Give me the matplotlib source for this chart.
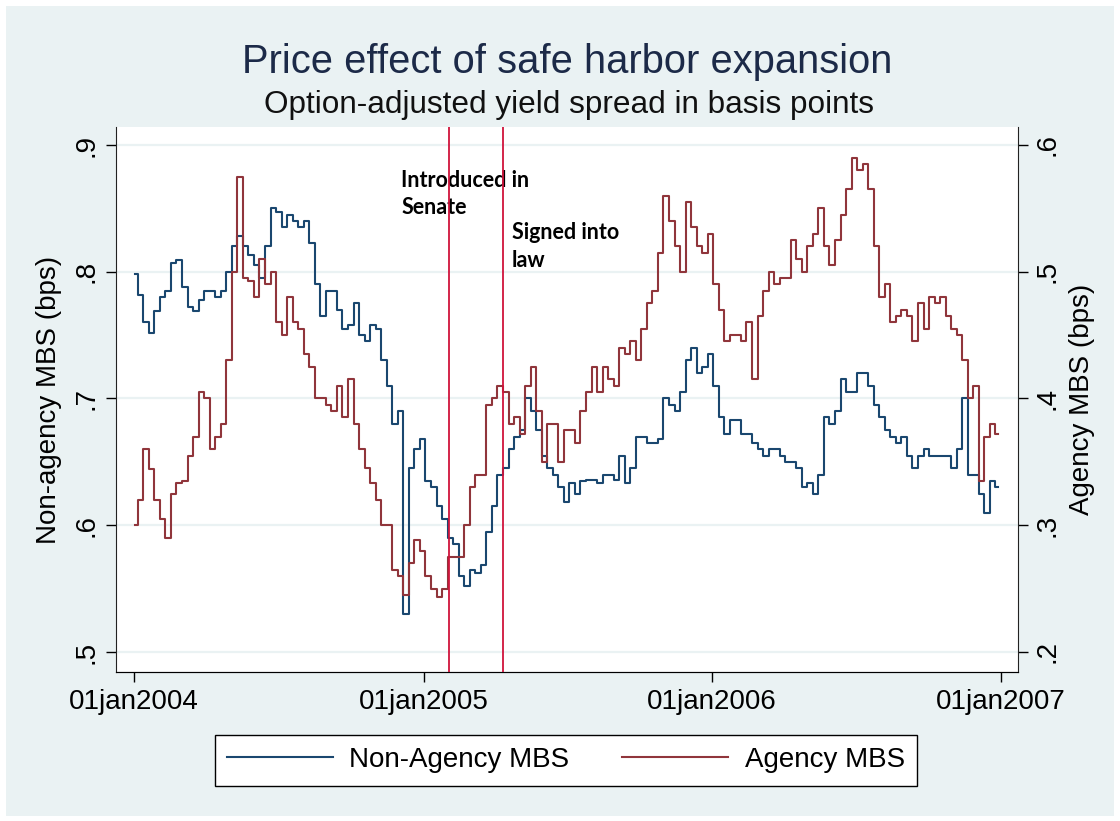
import matplotlib
matplotlib.use('Agg')
import matplotlib.pyplot as plt
from matplotlib.patches import Rectangle
import pandas as pd

# weekly readings, first friday of 2004 to last friday of 2006
week_start = '2004-01-02'
non_agency = [0.798, 0.782, 0.760, 0.752, 0.769, 0.780, 0.785, 0.807, 0.809, 0.788,
              0.772, 0.769, 0.778, 0.785, 0.785, 0.780, 0.785, 0.800, 0.820, 0.828,
              0.820, 0.813, 0.805, 0.795, 0.820, 0.850, 0.847, 0.835, 0.845, 0.840,
              0.835, 0.840, 0.823, 0.790, 0.765, 0.785, 0.785, 0.770, 0.755, 0.758,
              0.775, 0.750, 0.745, 0.758, 0.755, 0.730, 0.710, 0.680, 0.690, 0.530,
              0.645, 0.660, 0.668, 0.635, 0.630, 0.615, 0.605, 0.590, 0.585, 0.560,
              0.552, 0.565, 0.562, 0.569, 0.595, 0.615, 0.640, 0.645, 0.660, 0.670,
              0.675, 0.700, 0.690, 0.675, 0.655, 0.645, 0.640, 0.630, 0.618, 0.633,
              0.625, 0.635, 0.636, 0.636, 0.633, 0.640, 0.640, 0.636, 0.655, 0.633,
              0.645, 0.670, 0.670, 0.665, 0.665, 0.668, 0.700, 0.695, 0.690, 0.705,
              0.730, 0.740, 0.720, 0.725, 0.735, 0.710, 0.685, 0.672, 0.683, 0.683,
              0.672, 0.672, 0.665, 0.660, 0.655, 0.660, 0.660, 0.655, 0.650, 0.650,
              0.645, 0.630, 0.633, 0.625, 0.640, 0.685, 0.680, 0.690, 0.715, 0.705,
              0.705, 0.720, 0.720, 0.710, 0.695, 0.685, 0.675, 0.670, 0.665, 0.670,
              0.655, 0.645, 0.655, 0.660, 0.655, 0.655, 0.655, 0.655, 0.645, 0.660,
              0.700, 0.640, 0.640, 0.625, 0.610, 0.635, 0.630]
agency = [0.300, 0.320, 0.360, 0.344, 0.320, 0.305, 0.290, 0.325, 0.333, 0.335,
          0.355, 0.370, 0.405, 0.400, 0.360, 0.370, 0.380, 0.430, 0.500, 0.575,
          0.495, 0.493, 0.480, 0.510, 0.490, 0.500, 0.460, 0.450, 0.480, 0.460,
          0.455, 0.435, 0.425, 0.400, 0.400, 0.395, 0.390, 0.410, 0.385, 0.415,
          0.380, 0.360, 0.345, 0.333, 0.320, 0.300, 0.300, 0.265, 0.260, 0.245,
          0.270, 0.288, 0.280, 0.260, 0.250, 0.243, 0.250, 0.275, 0.275, 0.275,
          0.300, 0.330, 0.340, 0.340, 0.395, 0.400, 0.410, 0.405, 0.380, 0.385,
          0.372, 0.410, 0.425, 0.390, 0.350, 0.380, 0.380, 0.350, 0.375, 0.375,
          0.365, 0.390, 0.405, 0.425, 0.405, 0.425, 0.415, 0.410, 0.440, 0.435,
          0.445, 0.430, 0.455, 0.475, 0.485, 0.515, 0.560, 0.540, 0.520, 0.500,
          0.555, 0.535, 0.520, 0.515, 0.530, 0.490, 0.470, 0.445, 0.450, 0.450,
          0.445, 0.460, 0.415, 0.465, 0.485, 0.500, 0.490, 0.495, 0.495, 0.525,
          0.510, 0.500, 0.520, 0.530, 0.550, 0.520, 0.505, 0.525, 0.545, 0.565,
          0.590, 0.580, 0.585, 0.565, 0.520, 0.480, 0.490, 0.460, 0.465, 0.470,
          0.465, 0.445, 0.475, 0.455, 0.480, 0.475, 0.480, 0.465, 0.455, 0.450,
          0.430, 0.400, 0.410, 0.335, 0.370, 0.380, 0.372]
events = ['2005-02-02', '2005-04-12']
event_labels = ['Introduced in\nSenate', 'Signed into\nlaw']
year_ticks = ['2004-01-01', '2005-01-01', '2006-01-01', '2007-01-01']
left_ticks = [0.5, 0.6, 0.7, 0.8, 0.9]
right_ticks = [0.2, 0.3, 0.4, 0.5, 0.6]

dates = pd.date_range(week_start, periods=len(non_agency), freq='7D')

bg = '#EAF2F3'
blue = '#1A476F'
red = '#90353B'

plt.rcParams['font.family'] = ['Liberation Sans', 'DejaVu Sans']

fig = plt.figure(figsize=(11.2, 8.21), dpi=100, facecolor='white')
fig.patches.append(Rectangle((6 / 1120, 5 / 821), 1108 / 1120, 810 / 821, transform=fig.transFigure,
                             facecolor=bg, edgecolor='none', zorder=-10))

ax = fig.add_axes([116 / 1120, 1 - 672 / 821, 902 / 1120, 545 / 821])
ax.set_facecolor('white')
ax2 = ax.twinx()

l1, = ax.plot(dates, non_agency, color=blue, linewidth=1.5, drawstyle='steps-mid', label='Non-Agency MBS')
l2, = ax2.plot(dates, agency, color=red, linewidth=1.5, drawstyle='steps-mid', label='Agency MBS')

for d in events:
    ax2.axvline(pd.Timestamp(d), color='#D0143C', linewidth=1.3, zorder=5)

ax.set_xlim(pd.Timestamp('2003-12-09'), pd.Timestamp('2007-01-23'))
ax.set_ylim(0.4842, 0.9142)
ax2.set_ylim(0.1842, 0.6142)

ax.set_yticks(left_ticks)
ax.set_yticklabels(['.' + str(v)[2:] for v in left_ticks], rotation=90, va='center', fontsize=20)
ax2.set_yticks(right_ticks)
ax2.set_yticklabels(['.' + str(v)[2:] for v in right_ticks], rotation=90, va='center', fontsize=20)
ax.set_xticks([pd.Timestamp(t) for t in year_ticks])
ax.set_xticklabels([pd.Timestamp(t).strftime('%d%b%Y').lower() for t in year_ticks], fontsize=20)

ax.grid(axis='y', color=bg, linewidth=1.6)
ax.set_axisbelow(True)
ax.tick_params(axis='both', length=7, width=1, pad=5)
ax2.tick_params(axis='y', length=7, width=1, pad=5)

for a in (ax, ax2):
    a.spines['top'].set_visible(False)
ax.spines['right'].set_visible(False)
ax2.spines['left'].set_visible(False)
for s in ('left', 'bottom'):
    ax.spines[s].set_color('#222222')
ax2.spines['right'].set_color('#222222')

ax.set_ylabel('Non-agency MBS (bps)', fontsize=20, labelpad=8)
ax2.set_ylabel('Agency MBS (bps)', fontsize=20, labelpad=6)

ax.text(0.316, 0.922, event_labels[0], transform=ax.transAxes, fontsize=15.5, fontweight='bold',
        family=['Lato', 'DejaVu Sans'], va='top', ha='left', linespacing=1.4)
ax.text(0.439, 0.826, event_labels[1], transform=ax.transAxes, fontsize=15.5, fontweight='bold',
        family=['Lato', 'DejaVu Sans'], va='top', ha='left', linespacing=1.4)

fig.text(567 / 1120, 1 - 62 / 821, 'Price effect of safe harbor expansion', ha='center', va='center',
         fontsize=28.7, color='#1C2A48')
fig.text(569 / 1120, 1 - 105 / 821, 'Option-adjusted yield spread in basis points', ha='center', va='center',
         fontsize=22.7, color='#111111')

leg = fig.legend(handles=[l1, l2], loc='center', bbox_to_anchor=(566 / 1120, 1 - 760 / 821), ncol=2,
                 fontsize=20, handlelength=3.8, handletextpad=0.6, columnspacing=1.9, borderpad=0.45,
                 fancybox=False, framealpha=1, edgecolor='black')
leg.get_frame().set_linewidth(1.0)

plt.savefig('out.png', dpi=100, facecolor=fig.get_facecolor())
